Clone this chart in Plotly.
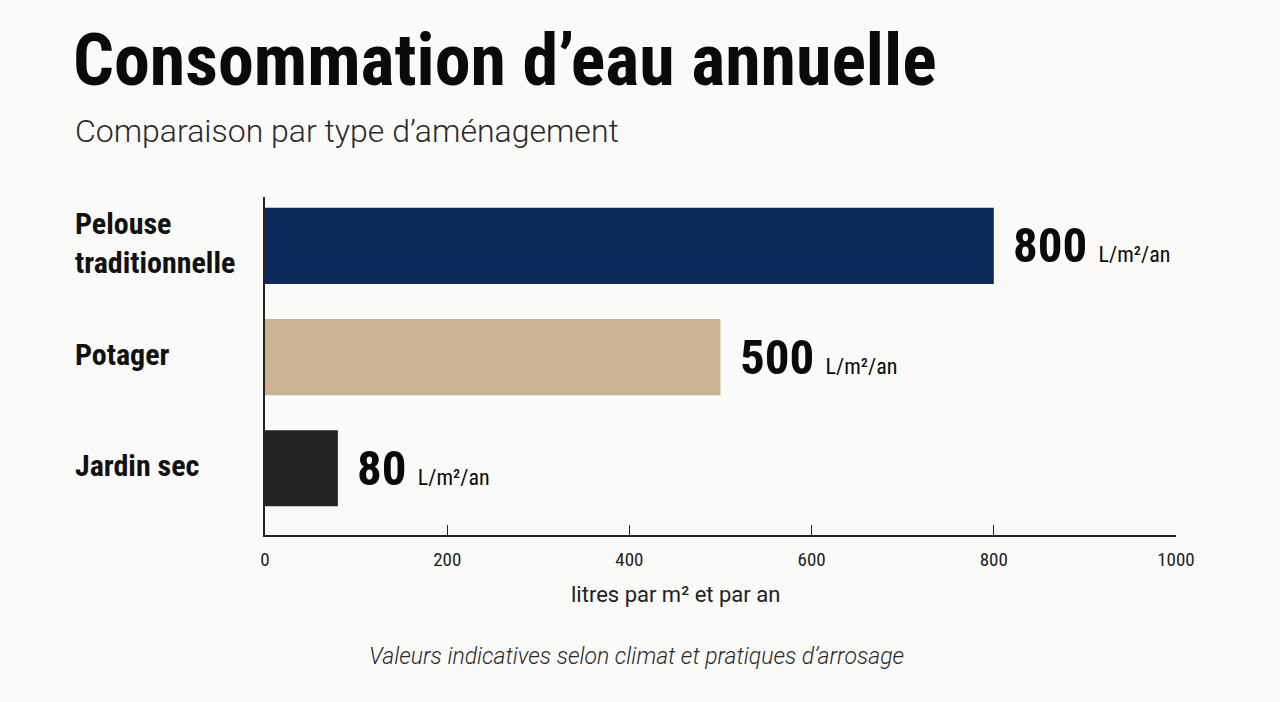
import plotly.graph_objects as go

categories = ["Pelouse traditionnelle", "Potager", "Jardin sec"]
category_labels = ["Pelouse<br>traditionnelle", "Potager", "Jardin sec"]
values = [800, 500, 80]
bar_colors = ["#0C2A5C", "#CBB391", "#242424"]
unit = "L/m²/an"
x_ticks = [0, 200, 400, 600, 800, 1000]

NARROW = "Roboto Condensed, Liberation Sans Narrow, DejaVu Sans Condensed, Roboto, sans-serif"
REG = "Roboto, Inter, sans-serif"
BG = "#FAFAF8"

fig = go.Figure()
fig.add_trace(go.Bar(
    x=values, y=categories, orientation="h",
    marker=dict(color=bar_colors, line=dict(width=0)),
    width=0.685, hoverinfo="skip",
))

W, H = 1280, 702
L, R, T, B = 265, 104, 197, 167
ph = H - T - B


def py(pix):
    return (H - B - pix) / ph


def px(pix):
    return (pix - L) / (W - L - R)


ann = []
ann.append(dict(text="<b>Consommation d’eau annuelle</b>", xref="paper", yref="paper",
                x=px(71), y=py(60), xanchor="left", yanchor="middle", showarrow=False,
                font=dict(family=NARROW, size=72, color="#0A0A0A", weight=900)))
ann.append(dict(text="Comparaison par type d’aménagement", xref="paper", yref="paper",
                x=px(73), y=py(131), xanchor="left", yanchor="middle", showarrow=False,
                font=dict(family=REG, size=32, color="#2A2A2A", weight=300)))
for cat, lab in zip(categories, category_labels):
    ann.append(dict(text="<b>" + lab + "</b>", xref="paper", yref="y",
                    x=px(73), y=cat, xanchor="left", yanchor="middle", align="left",
                    yshift=3, showarrow=False,
                    font=dict(family=NARROW, size=30, color="#111111")))
for cat, v in zip(categories, values):
    ann.append(dict(text=f"<b>{v}</b> <span style='font-size:22px'>{unit}</span>",
                    xref="x", yref="y", x=v, y=cat, xanchor="left", yanchor="middle",
                    xshift=17, showarrow=False,
                    font=dict(family=NARROW, size=49, color="#0A0A0A")))
ann.append(dict(text="litres par m² et par an", xref="paper", yref="paper",
                x=px(675), y=py(594), xanchor="center", yanchor="middle", showarrow=False,
                font=dict(family=REG, size=22, color="#222222")))
ann.append(dict(text="<i>Valeurs indicatives selon climat et pratiques d’arrosage</i>",
                xref="paper", yref="paper", x=px(636), y=py(656), xanchor="center",
                yanchor="middle", showarrow=False,
                font=dict(family=REG, size=23, color="#2A2A2A", weight=300)))

fig.update_layout(
    width=W, height=H,
    margin=dict(l=L, r=R, t=T, b=B, pad=0),
    paper_bgcolor=BG, plot_bgcolor=BG,
    showlegend=False,
    annotations=ann,
    xaxis=dict(range=[0, 1000], tickvals=x_ticks, ticktext=[str(t) for t in x_ticks],
               showgrid=False, zeroline=False, showline=True, linecolor="#222222",
               linewidth=1.5, ticks="inside", ticklen=10, tickwidth=1.2, tickcolor="#222222",
               tickfont=dict(family=NARROW, size=19, color="#222222"),
               ticklabelstandoff=6, fixedrange=True),
    yaxis=dict(categoryorder="array", categoryarray=categories,
               range=[2.6, -0.44], showticklabels=False, showgrid=False, zeroline=False,
               showline=True, linecolor="#222222", linewidth=1.5, ticks="", fixedrange=True),
)

fig.write_html("out.html", config={"displayModeBar": False})
